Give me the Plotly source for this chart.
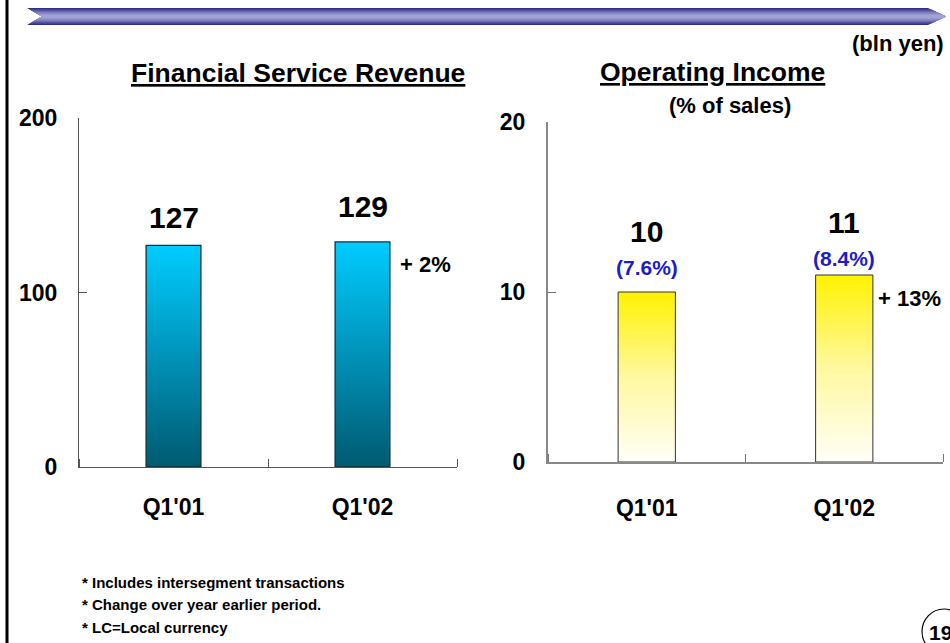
import plotly.graph_objects as go

# ---------------- data ----------------
categories = ["Q1'01", "Q1'02"]
revenue = [127, 129]
revenue_labels = ["127", "129"]
revenue_change = "+ 2%"
op_income = [10, 11]
op_income_labels = ["10", "11"]
op_margin_labels = ["(7.6%)", "(8.4%)"]
op_income_change = "+ 13%"
revenue_ticks = [0, 100, 200]
income_ticks = [0, 10, 20]
left_title = "Financial Service Revenue"
right_title = "Operating Income"
right_subtitle = "(% of sales)"
unit_label = "(bln yen)"
footnotes = ["* Includes intersegment transactions",
             "* Change over year earlier period.",
             "* LC=Local currency"]
page_number = "19"

# ---------------- style / layout ----------------
W, H = 950, 643
FONT = "Arial, Liberation Sans, Helvetica, sans-serif"
BAR_HALF = 0.145


def px(x):
    return x / W


def py(y):
    return 1 - y / H


fig = go.Figure()


def add_bars(values, xref, yref, colorscale, linecolor, linewidth):
    for i, v in enumerate(values):
        fig.add_trace(go.Scatter(
            x=[i - BAR_HALF, i - BAR_HALF, i + BAR_HALF, i + BAR_HALF, i - BAR_HALF],
            y=[0, v, v, 0, 0],
            xaxis=xref, yaxis=yref,
            mode="lines", fill="toself",
            fillgradient=dict(type="vertical", colorscale=colorscale, start=0, stop=v),
            line=dict(color=linecolor, width=linewidth),
            hoverinfo="skip", showlegend=False,
        ))


add_bars(revenue, "x", "y",
         [[0, "#005A70"], [0.45, "#008DB2"], [1, "#00CCFF"]], "#12303C", 1.3)
add_bars(op_income, "x2", "y2",
         [[0, "#FFFFF8"], [0.5, "#FFF8A0"], [1, "#FFF200"]], "#333333", 1)

boundaries = [i - 0.5 for i in range(len(categories) + 1)]

xcommon = dict(range=[-0.5, len(categories) - 0.5], tickmode="array",
               tickvals=list(range(len(categories))), ticktext=categories,
               ticks="", showgrid=False, zeroline=False, showline=True, automargin=False,
               tickfont=dict(family=FONT, size=23, color="black", weight="bold"))
ycommon = dict(tickmode="array", ticks="inside", ticklen=8, showgrid=False,
               zeroline=False, showline=True, automargin=False,
               tickfont=dict(family=FONT, size=23, color="black", weight="bold"))

fig.update_layout(
    width=W, height=H, margin=dict(l=0, r=0, t=0, b=0, pad=0, autoexpand=False),
    paper_bgcolor="white", plot_bgcolor="rgba(0,0,0,0)", showlegend=False,
    xaxis=dict(**xcommon, domain=[px(79), px(457)], anchor="y",
               linecolor="#555555", linewidth=1.2, ticklabelstandoff=19,
               minor=dict(tickmode="array", tickvals=boundaries, ticks="inside",
                          ticklen=8, showgrid=False, tickcolor="#555555")),
    yaxis=dict(**ycommon, domain=[py(467), py(118)], range=[0, 200],
               tickvals=revenue_ticks, anchor="x",
               linecolor="#555555", linewidth=1.2, tickcolor="#555555",
               ticklabelstandoff=16),
    xaxis2=dict(**xcommon, domain=[px(548), px(943)], anchor="y2",
                linecolor="#888888", linewidth=2, ticklabelstandoff=24,
                minor=dict(tickmode="array", tickvals=boundaries, ticks="inside",
                           ticklen=8, showgrid=False, tickcolor="#777777")),
    yaxis2=dict(**ycommon, domain=[py(462), py(122)], range=[0, 20],
                tickvals=income_ticks, anchor="x2",
                linecolor="#888888", linewidth=2, tickcolor="#777777",
                ticklabelstandoff=16),
)

ann = []


def A(**kw):
    base = dict(showarrow=False, xanchor="center", yanchor="middle")
    base.update(kw)
    ann.append(base)


def F(size, color="black", **kw):
    return dict(family=FONT, size=size, color=color, weight="bold", **kw)


# value labels
for i, (v, t, s) in enumerate(zip(revenue, revenue_labels, [28, 35])):
    A(x=i, y=v, xref="x", yref="y", text=t, yshift=s, font=F(30))
for i, (v, t, s) in enumerate(zip(op_income, op_income_labels, [61, 53])):
    A(x=i, y=v, xref="x2", yref="y2", text=t, yshift=s, font=F(30))
for i, (v, t, s) in enumerate(zip(op_income, op_margin_labels, [25, 17])):
    A(x=i, y=v, xref="x2", yref="y2", text=t, yshift=s, font=F(21, "#1C1CC8"))
# change labels
A(x=len(revenue) - 1 + BAR_HALF, y=revenue[-1], xref="x", yref="y",
  text=revenue_change, xanchor="left", xshift=8, yshift=-23, font=F(22))
A(x=len(op_income) - 1 + BAR_HALF, y=op_income[-1], xref="x2", yref="y2",
  text=op_income_change, xanchor="left", xshift=3, yshift=-23, font=F(22))
# titles
A(x=px(298), y=py(73), xref="paper", yref="paper", text=left_title,
  font=F(26.5, lineposition="under"))
A(x=px(712), y=py(72), xref="paper", yref="paper", text=right_title,
  font=F(26.5, lineposition="under"))
A(x=px(730), y=py(105), xref="paper", yref="paper", text=right_subtitle, font=F(22))
A(x=px(946), y=py(43), xref="paper", yref="paper", text=unit_label, xanchor="right",
  font=F(22))
for k, t in enumerate(footnotes):
    A(x=px(80), y=py(582 + 22.5 * k), xref="paper", yref="paper", text=t,
      xanchor="left", font=F(15))
A(x=px(927), y=py(632), xref="paper", yref="paper", text=page_number, xanchor="left",
  font=F(21))
fig.update_layout(annotations=ann)

# decorations: left border, banner, page circle
shapes = [dict(type="line", xref="paper", yref="paper", x0=px(7), x1=px(7), y0=0, y1=1,
               line=dict(color="black", width=3))]
cy = 16.5
left_x, notch_x, right_top, tip_x = 27, 42, 928, 946
layers = [(8.5, "#2E2E82"), (7.2, "#4C4C9C"), (5.8, "#6A6AB2"), (4.3, "#8585C2"),
          (2.8, "#9898CE"), (1.4, "#A2A2D4")]
for h, col in layers:
    lx = notch_x - (notch_x - left_x) * h / 8.5
    rx = tip_x - (tip_x - right_top) * h / 8.5
    path = (f"M {px(lx)},{py(cy - h)} L {px(rx)},{py(cy - h)} L {px(tip_x)},{py(cy)} "
            f"L {px(rx)},{py(cy + h)} L {px(lx)},{py(cy + h)} L {px(notch_x)},{py(cy)} Z")
    shapes.append(dict(type="path", xref="paper", yref="paper", path=path,
                       fillcolor=col, line=dict(width=0), layer="below"))
shapes.append(dict(type="circle", xref="paper", yref="paper", x0=px(922), x1=px(966),
                   y0=py(654), y1=py(609), line=dict(color="black", width=1.2)))
fig.update_layout(shapes=shapes)

fig.write_html("out.html", config={"displayModeBar": False},
               post_script="document.body.style.margin='0';document.body.style.overflow='hidden';")
